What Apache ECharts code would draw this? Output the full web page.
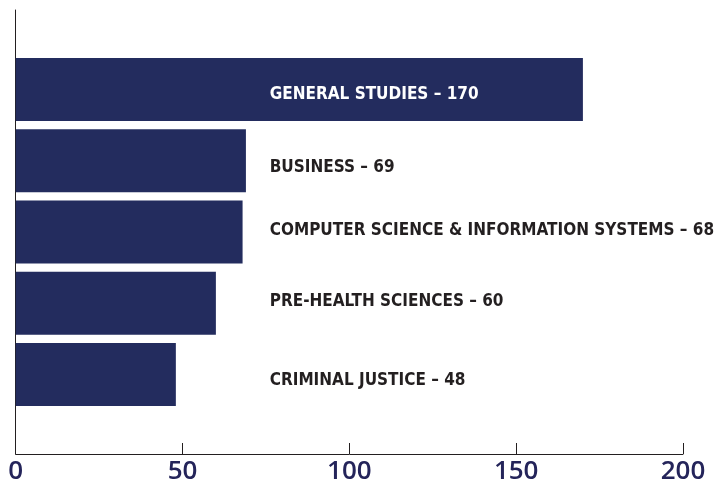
<!DOCTYPE html>
<html><head><meta charset="utf-8">
<script src="https://cdn.jsdelivr.net/npm/echarts@6/dist/echarts.min.js"></script>
<style>html,body{margin:0;padding:0;background:#fff}#c{width:721px;height:487px}</style>
</head><body><div id="c"></div>
<script>
var categories = ['GENERAL STUDIES', 'BUSINESS', 'COMPUTER SCIENCE & INFORMATION SYSTEMS', 'PRE-HEALTH SCIENCES', 'CRIMINAL JUSTICE'];
var values = [170, 69, 68, 60, 48];
var xTicks = [0, 50, 100, 150, 200];
var labelColors = ['#ffffff', '#231f20', '#231f20', '#231f20', '#231f20'];
var labelShift = [5, 7, -1, -2, 6];

var chart = echarts.init(document.getElementById('c'));
var cats = categories.slice().reverse();
var data = values.map(function (v, i) {
  return {
    value: v,
    label: { color: labelColors[i], offset: [0, labelShift[i]] }
  };
}).reverse();

chart.setOption({
  animation: false,
  grid: [
    { left: 15.7, right: 38, top: 10, bottom: 33 },
    { left: 15.7, right: 38, top: 54, bottom: 77 }
  ],
  xAxis: [
    { gridIndex: 0, type: 'value', min: xTicks[0], max: xTicks[xTicks.length - 1], interval: 50,
      axisLine: { show: true, lineStyle: { color: '#231f20', width: 1 } },
      axisTick: { show: true, inside: true, length: 11, lineStyle: { color: '#231f20' } },
      splitLine: { show: false },
      axisLabel: { color: '#24245a', fontSize: 26, fontFamily: 'Open Sans', fontWeight: 600, margin: 5 } },
    { gridIndex: 1, type: 'value', min: 0, max: 200, show: false }
  ],
  yAxis: [
    { gridIndex: 0, type: 'value', min: 0, max: 1,
      axisLine: { show: true, lineStyle: { color: '#231f20', width: 1 } },
      axisTick: { show: false }, axisLabel: { show: false }, splitLine: { show: false } },
    { gridIndex: 1, type: 'category', data: cats, show: false }
  ],
  series: [{
    type: 'bar', xAxisIndex: 1, yAxisIndex: 1,
    data: data, barWidth: 63,
    itemStyle: { color: '#232c5e' },
    label: {
      show: true, position: [254, '50%'], verticalAlign: 'middle', align: 'left',
      fontFamily: '"DejaVu Sans Condensed", Roboto, sans-serif', fontWeight: 'bold', fontSize: 17,
      formatter: function (p) { return p.name + ' \u2013 ' + p.value; }
    }
  }]
});
</script></body></html>
